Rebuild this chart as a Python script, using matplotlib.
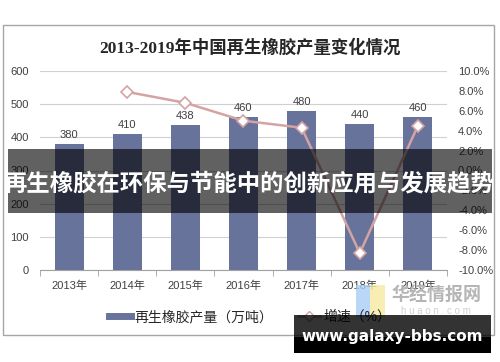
import numpy as np
import matplotlib
matplotlib.use("Agg")
import matplotlib.pyplot as plt
from matplotlib.patches import Rectangle
from matplotlib.lines import Line2D

plt.rcParams['font.family'] = ['Liberation Sans', 'Noto Sans CJK SC', 'DejaVu Sans']

years = ["2013年", "2014年", "2015年", "2016年", "2017年", "2018年", "2019年"]
output = [380, 410, 438, 460, 480, 440, 460]
growth = [None, 7.9, 6.8, 5.0, 4.3, -8.3, 4.5]

bar_c = '#67739B'
line_c = '#D4A3A3'
txt_c = '#404040'

W, H = 500, 362
fig = plt.figure(figsize=(W / 100, H / 100), dpi=100)

def fx(px): return px / W
def fy(py): return 1 - py / H

# outer frame
fig.patches.append(Rectangle((fx(3), fy(335)), fx(491), (335 - 25) / H,
                             transform=fig.transFigure, fill=False,
                             edgecolor='#a6a6a6', lw=1))

fig.text(fx(250), fy(48), "2013-2019年中国再生橡胶产量变化情况",
         ha='center', va='center', fontsize=12.5, fontweight='bold', color='#262626',
         family=['Liberation Serif', 'Noto Sans CJK SC'])

ax = fig.add_axes([fx(40), fy(270), fx(407), (270 - 71) / H])
x = np.arange(len(years))
ax.bar(x, output, width=0.5, color=bar_c, zorder=2)
for xi, v in zip(x, output):
    ax.text(xi, v + 12, str(v), ha='center', va='bottom', fontsize=8, color=txt_c)
ax.set_ylim(0, 600)
ax.set_xlim(-0.5, len(years) - 0.5)
ax.set_yticks(range(0, 601, 100))
ax.yaxis.grid(True, color='#d0d0d0', lw=0.8, zorder=0)
ax.set_xticks(x)
ax.set_xticklabels(years)
ax.set_xticks(np.arange(-0.5, len(years), 1), minor=True)
ax.tick_params(axis='x', which='major', length=0, labelsize=8, labelcolor=txt_c, pad=8)
ax.tick_params(axis='x', which='minor', length=4, color='#a0a0a0')
ax.tick_params(axis='y', length=0, labelsize=8, labelcolor=txt_c, pad=8)
for s in ['top', 'right', 'left']:
    ax.spines[s].set_visible(False)
ax.spines['bottom'].set_color('#a0a0a0')

ax2 = ax.twinx()
gx = [xi for xi, g in zip(x, growth) if g is not None]
gy = [g for g in growth if g is not None]
ax2.plot(gx, gy, color=line_c, lw=1.8, marker='D', markersize=6,
         markerfacecolor='white', markeredgecolor=line_c, markeredgewidth=1.2, zorder=3)
ax2.set_ylim(-10, 10)
ax2.set_yticks(np.arange(-10, 10.1, 2))
ax2.set_yticklabels([f"{v:.1f}%" for v in np.arange(-10, 10.1, 2)])
ax2.tick_params(axis='y', length=0, labelsize=8, labelcolor=txt_c, pad=8)
for s in ax2.spines.values():
    s.set_visible(False)

handles = [Line2D([0], [0], color=bar_c, lw=5),
           Line2D([0], [0], color=line_c, lw=1.8, marker='D', markersize=5,
                  markerfacecolor='white', markeredgecolor=line_c)]
fig.legend(handles, ["再生橡胶产量（万吨）", "增速（%）"], loc='center',
           bbox_to_anchor=(fx(250), fy(317)), ncol=2, frameon=False,
           fontsize=10, handlelength=1.6, handletextpad=0.2, columnspacing=1.8,
           labelcolor='#262626')

# watermark
fig.patches.append(Rectangle((fx(356), fy(317)), fx(14), 32 / H, transform=fig.transFigure,
                             color='#a9cdf5', alpha=0.8, lw=0))
fig.patches.append(Rectangle((fx(370), fy(317)), fx(15), 32 / H, transform=fig.transFigure,
                             color='#f7eaa0', alpha=0.8, lw=0))
fig.text(fx(436), fy(295), "华经情报网", ha='center', va='center', fontsize=13,
         color='#b5b5b5', fontweight='bold', family=['Noto Sans CJK SC'])
fig.text(fx(436), fy(311), "h u a o n . c o m", ha='center', va='center', fontsize=7,
         color='#d0d0d0')

# banner
fig.patches.append(Rectangle((fx(8), fy(213)), fx(484), (213 - 149) / H,
                             transform=fig.transFigure, color='black', alpha=0.62,
                             lw=0, zorder=10))
fig.text(fx(249), fy(183), "再生橡胶在环保与节能中的创新应用与发展趋势",
         ha='center', va='center', fontsize=16.8, fontweight='bold', color='white',
         family=['Noto Sans CJK SC'], zorder=11)

# footer
fig.patches.append(Rectangle((fx(294), fy(337)), fx(197), (337 - 315) / H,
                             transform=fig.transFigure, color='black', alpha=0.8,
                             lw=0, zorder=10))
fig.patches.append(Rectangle((fx(294), fy(353)), fx(197), (353 - 337) / H,
                             transform=fig.transFigure, color='black', lw=0, zorder=10))
fig.text(fx(392), fy(337), "www.galaxy-bbs.com", ha='center', va='center',
         fontsize=11, fontweight='bold', color='white', family=['DejaVu Sans'], zorder=11)

fig.savefig("out.png", dpi=100)
